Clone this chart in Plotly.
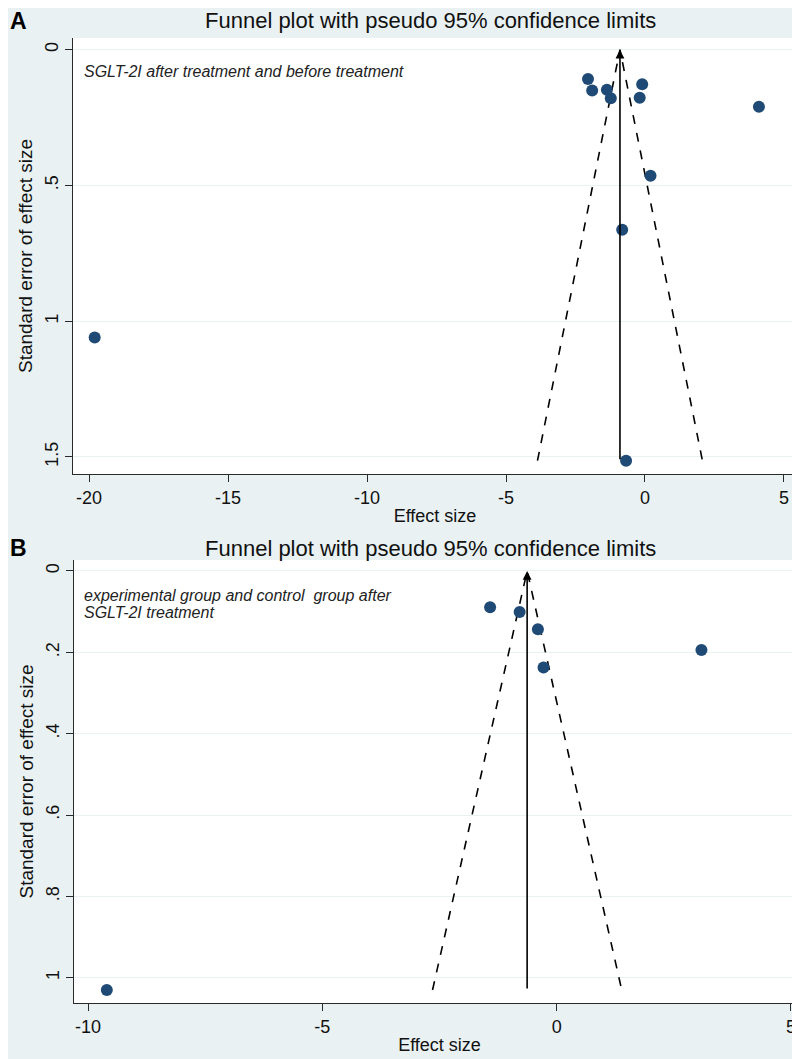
import plotly.graph_objects as go

# ---------------- data ----------------
top_effect = [-2.05, -1.90, -1.37, -1.23, -0.10, -0.19, 4.10, 0.20, -0.82, -0.68, -19.8]
top_se = [0.108, 0.150, 0.148, 0.179, 0.127, 0.177, 0.210, 0.464, 0.663, 1.514, 1.06]
top_theta = -0.90
top_note_lines = ["SGLT-2I after treatment and before treatment"]
top_yticks = [0, 0.5, 1, 1.5]
top_yticklabels = ["0", ".5", "1", "1.5"]
top_xticks = [-20, -15, -10, -5, 0, 5]
top_xticklabels = ["-20", "-15", "-10", "-5", "0", "5"]

bot_effect = [-1.42, -0.79, -0.40, 3.09, -0.28, -9.6]
bot_se = [0.089, 0.101, 0.143, 0.194, 0.237, 1.03]
bot_theta = -0.63
bot_note_lines = ["experimental group and control  group after", "SGLT-2I treatment"]
bot_yticks = [0, 0.2, 0.4, 0.6, 0.8, 1]
bot_yticklabels = ["0", ".2", ".4", ".6", ".8", "1"]
bot_xticks = [-10, -5, 0, 5]
bot_xticklabels = ["-10", "-5", "0", "5"]

title_text = "Funnel plot with pseudo 95% confidence limits"
xlabel = "Effect size"
ylabel = "Standard error of effect size"

# ---------------- style ----------------
W, H = 800, 1059
BG = "#e9f1f3"
MARK = "#1f4a75"
FONT = "Liberation Sans, Arial, Helvetica, sans-serif"
AX = "#2a2a2a"


def px_x(p):
    return p / W


def px_y(p):
    return 1 - p / H


fig = go.Figure()

panels = [
    dict(eff=top_effect, se=top_se, theta=top_theta, xa="x", ya="y",
         xr=[-20.58, 5.47], yr=[1.563, -0.043],
         xdom=[px_x(65), px_x(789)], ydom=[px_y(466), px_y(30)],
         yt=top_yticks, ytl=top_yticklabels, xt=top_xticks, xtl=top_xticklabels,
         note=top_note_lines, note_y=63, title_y=13, letter="A"),
    dict(eff=bot_effect, se=bot_se, theta=bot_theta, xa="x2", ya="y2",
         xr=[-10.30, 5.30], yr=[1.062, -0.027],
         xdom=[px_x(66), px_x(797)], ydom=[px_y(995), px_y(552)],
         yt=bot_yticks, ytl=bot_yticklabels, xt=bot_xticks, xtl=bot_xticklabels,
         note=bot_note_lines, note_y=587, title_y=540, letter="B"),
]

annotations = []
for i, p in enumerate(panels):
    maxse = max(p["se"])
    th = p["theta"]
    # pseudo 95% CI funnel lines
    fig.add_trace(go.Scatter(
        x=[th - 1.96 * maxse, th, th + 1.96 * maxse],
        y=[maxse, 0, maxse],
        mode="lines", line=dict(color="black", width=1.6, dash="dash"),
        xaxis=p["xa"], yaxis=p["ya"], showlegend=False, hoverinfo="skip"))
    # studies
    fig.add_trace(go.Scatter(
        x=p["eff"], y=p["se"], mode="markers",
        marker=dict(color=MARK, size=12, line=dict(width=0)),
        xaxis=p["xa"], yaxis=p["ya"], showlegend=False))
    # vertical line with arrow head
    annotations.append(dict(
        x=th, y=0, ax=th, ay=maxse, xref=p["xa"], yref=p["ya"],
        axref=p["xa"], ayref=p["ya"], showarrow=True, text="",
        arrowhead=2, arrowsize=1.1, arrowwidth=1.6, arrowcolor="black"))
    # note inside plot
    for k, line in enumerate(p["note"]):
        annotations.append(dict(
            x=px_x(74), y=px_y(p["note_y"] + 17 * k), xref="paper", yref="paper",
            xanchor="left", yanchor="middle", align="left", showarrow=False,
            text="<i>" + line + "</i>",
            font=dict(family=FONT, size=16, color="#222")))
    # title
    annotations.append(dict(
        x=px_x(422), y=px_y(p["title_y"]), xref="paper", yref="paper",
        xanchor="center", yanchor="middle", showarrow=False, text=title_text,
        font=dict(family=FONT, size=22, color="#111")))
    # panel letter
    annotations.append(dict(
        x=0, y=px_y(p["title_y"]), xref="paper", yref="paper",
        xanchor="left", yanchor="middle", showarrow=False,
        text="<b>" + p["letter"] + "</b>",
        font=dict(family=FONT, size=23, color="#000")))

    sfx = "" if i == 0 else "2"
    axis_common = dict(showline=True, linecolor=AX, linewidth=1.3,
                       ticks="outside", ticklen=7, tickcolor=AX, tickwidth=1.2,
                       zeroline=False, mirror=False, ticklabeloverflow="allow",
                       tickfont=dict(family=FONT, size=18, color="#111"))
    fig.layout["xaxis" + sfx] = dict(
        domain=p["xdom"], range=p["xr"], anchor="y" + sfx,
        tickmode="array", tickvals=p["xt"], ticktext=p["xtl"], showgrid=False,
        title=dict(text=xlabel, font=dict(family=FONT, size=18, color="#111"),
                   standoff=2),
        **axis_common)
    fig.layout["yaxis" + sfx] = dict(
        domain=p["ydom"], range=p["yr"], anchor="x" + sfx,
        tickmode="array", tickvals=p["yt"], ticktext=p["ytl"], tickangle=-90,
        showgrid=True, gridcolor=BG, gridwidth=1,
        title=dict(text=ylabel, font=dict(family=FONT, size=19, color="#111"),
                   standoff=4),
        **axis_common)

fig.update_layout(
    width=W, height=H, margin=dict(l=0, r=0, t=0, b=0),
    paper_bgcolor=BG, plot_bgcolor="white",
    annotations=annotations, showlegend=False,
)

fig.write_html("out.html")
